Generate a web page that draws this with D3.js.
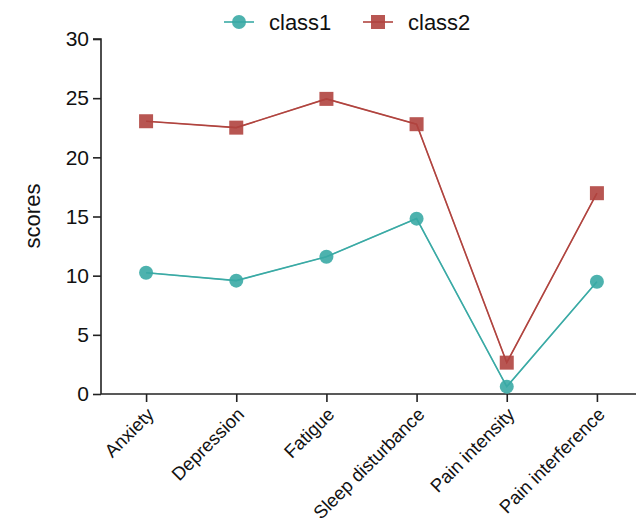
<!DOCTYPE html>
<html><head><meta charset="utf-8">
<script src="https://cdn.jsdelivr.net/npm/d3@7/dist/d3.min.js"></script>
<style>body{margin:0;background:#fff}svg{display:block}text{font-family:"Liberation Sans",Arial,Helvetica,sans-serif}</style>
</head><body><svg id="c" width="636" height="523"></svg>
<script>
const categories = ["Anxiety","Depression","Fatigue","Sleep disturbance","Pain intensity","Pain interference"];
const class1 = [10.25, 9.58, 11.6, 14.82, 0.62, 9.49];
const class2 = [23.05, 22.51, 24.94, 22.8, 2.65, 16.97];
const yTicks = [0,5,10,15,20,25,30];
const seriesNames = ["class1","class2"];

const svg = d3.select("#c");
const x = d3.scalePoint().domain(categories).range([101, 642]).padding(0.5);
const y = d3.scaleLinear().domain([0,30]).range([394, 39]);

const teal = "#3aaaa5", red = "#b0443f";

// y axis
const ya = svg.append("g").attr("transform","translate(101,0)")
  .call(d3.axisLeft(y).tickValues(yTicks).tickSize(8).tickPadding(4));
ya.select(".domain").attr("stroke","#222").attr("stroke-width",1.6).attr("d","M-8,39H0V394");
ya.selectAll(".tick line").attr("stroke","#222").attr("stroke-width",1.6);
ya.selectAll(".tick text").attr("font-size",21).attr("fill","#111");

// x axis
const xa = svg.append("g").attr("transform","translate(0,394)")
  .call(d3.axisBottom(x).tickSize(8).tickSizeOuter(0));
xa.select(".domain").attr("stroke","#222").attr("stroke-width",1.6).attr("d","M101,0H636");
xa.selectAll(".tick line").attr("stroke","#222").attr("stroke-width",1.6);
xa.selectAll(".tick text").attr("font-size",18.5).attr("fill","#111")
  .attr("text-anchor","end").attr("dy","0.35em")
  .attr("transform","translate(4,17) rotate(-45)").attr("y",0).attr("x",0);

// y label
svg.append("text").attr("transform","translate(40,216) rotate(-90)")
  .attr("text-anchor","middle").attr("font-size",22).attr("fill","#111").text("scores");

const line = d3.line().x((d,i)=>x(categories[i])).y(d=>y(d));
svg.append("path").datum(class2).attr("d",line).attr("fill","none").attr("stroke",red).attr("stroke-width",1.6);
svg.append("path").datum(class1).attr("d",line).attr("fill","none").attr("stroke",teal).attr("stroke-width",1.6);

svg.selectAll(".sq").data(class2).enter().append("rect")
  .attr("x",(d,i)=>x(categories[i])-7).attr("y",d=>y(d)-7).attr("width",14).attr("height",14)
  .attr("fill",red).attr("fill-opacity",0.9);
svg.selectAll(".ci").data(class1).enter().append("circle")
  .attr("cx",(d,i)=>x(categories[i])).attr("cy",d=>y(d)).attr("r",7)
  .attr("fill",teal).attr("fill-opacity",0.9);
// line over markers
svg.append("path").datum(class2).attr("d",line).attr("fill","none").attr("stroke",red).attr("stroke-width",1.2).attr("opacity",0.6);
svg.append("path").datum(class1).attr("d",line).attr("fill","none").attr("stroke",teal).attr("stroke-width",1.2).attr("opacity",0.6);

// legend
const lg = svg.append("g");
lg.append("line").attr("x1",224).attr("x2",254).attr("y1",22).attr("y2",22).attr("stroke",teal).attr("stroke-width",1.6);
lg.append("circle").attr("cx",239).attr("cy",22).attr("r",7).attr("fill",teal).attr("fill-opacity",0.9);
lg.append("text").attr("x",269).attr("y",30).attr("font-size",22).attr("fill","#111").text(seriesNames[0]);
lg.append("line").attr("x1",363).attr("x2",393).attr("y1",22).attr("y2",22).attr("stroke",red).attr("stroke-width",1.6);
lg.append("rect").attr("x",371).attr("y",15).attr("width",14).attr("height",14).attr("fill",red).attr("fill-opacity",0.9);
lg.append("text").attr("x",408).attr("y",30).attr("font-size",22).attr("fill","#111").text(seriesNames[1]);
</script></body></html>
